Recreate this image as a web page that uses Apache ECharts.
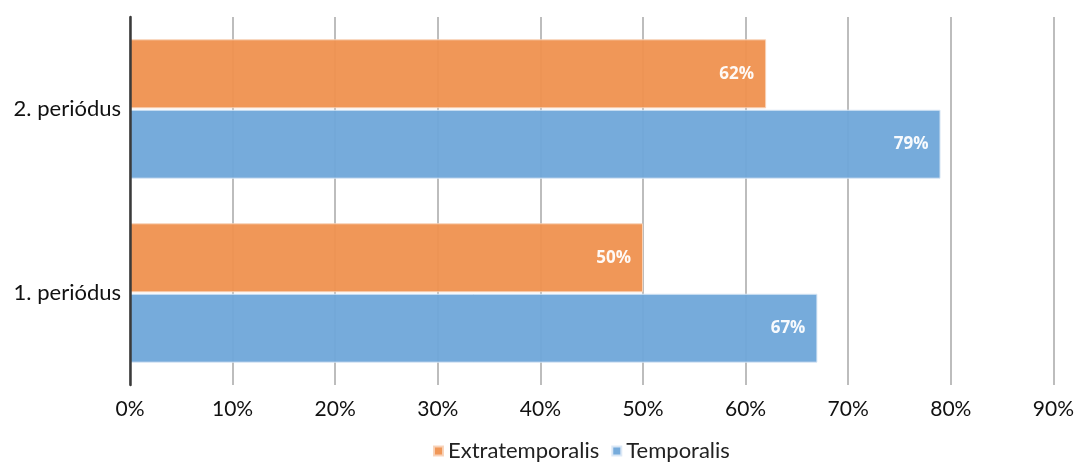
<!DOCTYPE html>
<html><head><meta charset="utf-8">
<script src="https://cdn.jsdelivr.net/npm/echarts@6/dist/echarts.min.js"></script>
<style>html,body{margin:0;padding:0;background:#fff}#c{width:1077px;height:464px}</style>
</head><body><div id="c"></div>
<script>
const categories = ['1. periódus', '2. periódus'];
const temporalis = [67, 79];
const extratemporalis = [50, 62];
const xTicks = [0, 10, 20, 30, 40, 50, 60, 70, 80, 90];

const chart = echarts.init(document.getElementById('c'), null, {renderer: 'canvas'});
const font = 'Lato, "Open Sans", sans-serif';
const lbl = {show: true, position: 'insideRight', distance: 12, color: '#fff', fontWeight: 'bold', fontSize: 17, fontFamily: '"Open Sans", sans-serif', formatter: p => p.value + '%'};
chart.setOption({
  animation: false,
  textStyle: {fontFamily: font},
  grid: {left: 130, right: 22, top: 17, bottom: 79, containLabel: false},
  legend: {
    top: 435, left: 428, itemWidth: 9, itemHeight: 9, itemGap: 12,
    icon: 'rect', data: ['Extratemporalis', 'Temporalis'],
    textStyle: {fontSize: 22, color: '#222', fontFamily: font, padding: [0, 0, 0, 0]}
  },
  xAxis: {
    type: 'value', min: xTicks[0], max: xTicks[xTicks.length - 1], interval: 10,
    axisLine: {show: false}, axisTick: {show: false},
    axisLabel: {formatter: v => v + '%', fontSize: 21, color: '#111', margin: 14, fontFamily: font},
    splitLine: {show: true, lineStyle: {color: '#bdbdbd', width: 2}}
  },
  yAxis: {
    type: 'category', data: categories, z: 5,
    axisLine: {show: true, lineStyle: {color: '#3a3a3a', width: 2.5}},
    axisTick: {show: false},
    axisLabel: {fontSize: 22, color: '#111', margin: 9, fontFamily: font}
  },
  series: [
    {name: 'Extratemporalis', type: 'bar', data: extratemporalis, barWidth: 69, barGap: '2%',
     itemStyle: {color: '#ef914f', opacity: 0.95, borderColor: '#f8d3b8', borderWidth: 1}, label: lbl},
    {name: 'Temporalis', type: 'bar', data: temporalis, barWidth: 69, barGap: '2%',
     itemStyle: {color: '#6fa6d9', opacity: 0.95, borderColor: '#dbe8f5', borderWidth: 1}, label: lbl}
  ]
});
</script></body></html>
